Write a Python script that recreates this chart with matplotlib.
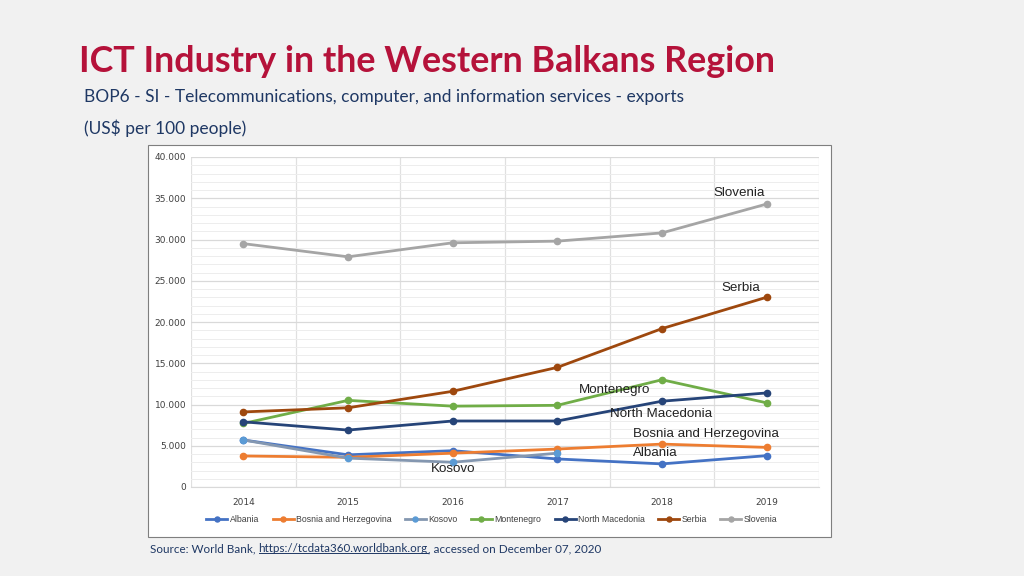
import numpy as np
import matplotlib.pyplot as plt
from matplotlib.patches import Rectangle

years = ['2014', '2015', '2016', '2017', '2018', '2019']

albania    = [5.7, 3.9, 4.4, 3.4, 2.8, 3.8]
bosnia     = [3.76, 3.6, 4.1, 4.6, 5.2, 4.8]
kosovo     = [5.7, 3.5, 3.0, 4.1]
montenegro = [7.7, 10.5, 9.8, 9.9, 13.0, 10.2]
macedonia  = [7.9, 6.9, 8.0, 8.0, 10.4, 11.4]
serbia     = [9.1, 9.6, 11.6, 14.5, 19.2, 23.0]
slovenia   = [29.5, 27.9, 29.6, 29.8, 30.8, 34.3]

series = [
    ('Albania', albania, '#4472C4', '#4472C4'),
    ('Bosnia and Herzegovina', bosnia, '#ED7D31', '#ED7D31'),
    ('Kosovo', kosovo, '#8497B0', '#5B9BD5'),
    ('Montenegro', montenegro, '#70AD47', '#70AD47'),
    ('North Macedonia', macedonia, '#264478', '#264478'),
    ('Serbia', serbia, '#9E480E', '#9E480E'),
    ('Slovenia', slovenia, '#A5A5A5', '#A5A5A5'),
]

# end labels (x index, value in thousands)
labels = [
    ('Slovenia', 4.74, 35.6),
    ('Serbia', 4.75, 24.1),
    ('Montenegro', 3.55, 11.8),
    ('North Macedonia', 3.99, 8.9),
    ('Bosnia and Herzegovina', 4.42, 6.4),
    ('Albania', 3.94, 4.1),
    ('Kosovo', 2.0, 2.2),
]

fig = plt.figure(figsize=(10.24, 5.76), dpi=100)
fig.patch.set_facecolor('#F1F1F1')

# chart frame
fig.patches.append(Rectangle((148/1024, 1-537/576), (831-148)/1024, (537-145)/576,
                             transform=fig.transFigure, facecolor='white',
                             edgecolor='#7F7F7F', linewidth=0.8, zorder=-1))

ax = fig.add_axes([191/1024, 1-487/576, (819-191)/1024, (487-157)/576])
ax.set_facecolor('white')

x = np.arange(len(years))
for name, vals, lc, mc in series:
    ax.plot(x[:len(vals)], np.array(vals)*1000, color=lc, lw=2, marker='o', ms=4.5,
            markerfacecolor=mc, markeredgecolor=mc, label=name, zorder=3)

for txt, xi, yv in labels:
    ax.text(xi, yv*1000, txt, fontsize=9.6, color='#222222', ha='center', va='center',
            family='Liberation Sans', zorder=4)

ax.set_xlim(-0.5, 5.5)
ax.set_ylim(0, 40000)
ax.set_xticks(x)
ax.set_xticklabels(years)
yt = np.arange(0, 40001, 5000)
ax.set_yticks(yt)
ax.set_yticklabels(['0'] + ['{:,.0f}'.format(v).replace(',', '.') for v in yt[1:]])
ax.set_yticks(np.arange(0, 40001, 1000), minor=True)
ax.set_xticks(np.arange(-0.5, 6, 1), minor=True)
ax.tick_params(axis='both', which='both', length=0, labelsize=6.5, colors='#404040')
ax.tick_params(axis='x', pad=8)
ax.grid(True, which='major', axis='y', color='#D9D9D9', lw=0.9)
ax.grid(True, which='minor', axis='y', color='#EDEDED', lw=0.7)
ax.grid(True, which='minor', axis='x', color='#E0E0E0', lw=0.9)
for s in ['top', 'right', 'left']:
    ax.spines[s].set_visible(False)
ax.spines['bottom'].set_color('#D9D9D9')

leg = fig.legend(loc='center', bbox_to_anchor=(492/1024, 1-520/576), ncol=7,
                 frameon=False, prop={'family': 'Liberation Sans', 'size': 6.3},
                 handlelength=2.4, columnspacing=1.5, handletextpad=0.3,
                 markerscale=0.8)
for t in leg.get_texts():
    t.set_color('#404040')

fig.text(79/1024, 1-62/576, 'ICT Industry in the Western Balkans Region', fontsize=25.8,
         fontweight='bold', color='#B5123A', family='Lato', va='center')
fig.text(84/1024, 1-97/576, 'BOP6 - SI - Telecommunications, computer, and information services - exports',
         fontsize=12.5, color='#1F3864', family='Lato', va='center')
fig.text(84/1024, 1-128/576, '(US$ per 100 people)', fontsize=12.5, color='#1F3864',
         family='Lato', va='center')

# source line, pieces placed one after another
r = fig.canvas.get_renderer()
xpos = 150
ys = 1 - 549/576
for part in ['Source: World Bank,', 'https://tcdata360.worldbank.org', ', accessed on December 07, 2020']:
    t = fig.text(xpos/1024, ys, part, fontsize=8.4, color='#1F3864', family='Lato', va='center')
    bb = t.get_window_extent(r)
    if part.startswith('http'):
        fig.add_artist(plt.Line2D([bb.x0/1024, bb.x1/1024], [bb.y0/576 + 0.002, bb.y0/576 + 0.002],
                                  color='#1F3864', lw=0.7))
    xpos = bb.x1 + (3 if part.endswith(',') and part.startswith('S') else 0)

fig.savefig('out.png', dpi=100, facecolor=fig.get_facecolor())
